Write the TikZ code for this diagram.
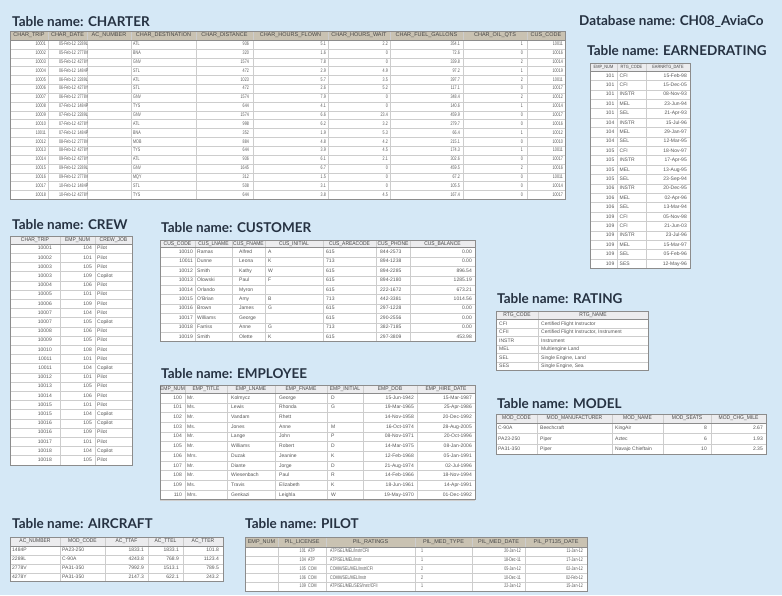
\documentclass[tikz,border=0pt]{standalone}
\usepackage{fontspec}
\setmainfont{Liberation Sans}
\newfontfamily\titlefont{Lato}
\newfontfamily\tabfont{Liberation Sans}
\newfontfamily\tabfontc[FakeStretch=0.7]{Liberation Sans}
\newfontfamily\hdrfont[FakeStretch=0.9]{Liberation Sans}
\newfontfamily\hdrfontn{Liberation Sans}
\newfontfamily\hdrfonts[FakeStretch=0.85]{Liberation Sans}
\definecolor{bgblue}{RGB}{213,232,246}
\definecolor{titlecol}{RGB}{38,50,66}
\definecolor{celltxt}{RGB}{85,85,85}
\definecolor{hdrtxt}{RGB}{70,70,70}
\definecolor{gridcol}{RGB}{205,205,205}
\definecolor{bordercol}{RGB}{140,140,140}
\definecolor{hdrlight}{RGB}{236,236,238}
\definecolor{hdrtan}{RGB}{201,194,178}
\tikzset{
  tabtitle/.style={anchor=base west, inner sep=0pt, text=titlecol, font=\titlefont\bfseries\fontsize{13.5}{16}\selectfont},
  cell/.style={inner sep=0pt, text=celltxt, text height=3.6pt, text depth=1pt, font=\tabfont\fontsize{5}{6}\selectfont},
  cellc/.style={cell, font=\tabfontc\fontsize{5.2}{6}\selectfont},
  hcell/.style={inner sep=0pt, text=hdrtxt, text height=3.8pt, text depth=1pt, font=\hdrfont\fontsize{5.5}{6}\selectfont},
  hcelln/.style={hcell, font=\hdrfontn\fontsize{5.5}{6}\selectfont},
  hcells/.style={hcell, font=\hdrfonts\fontsize{4.6}{6}\selectfont},
  gridline/.style={draw=gridcol, line width=0.4pt},
  tabborder/.style={draw=bordercol, line width=0.6pt},
  ra/.style={anchor=east}, la/.style={anchor=west}
}
% x0, x1, y0, header height, row height, rows, dividers, header fill
\newcommand\tabgrid[8]{%
  \pgfmathsetmacro\tgbot{#3+#4+#6*#5}%
  \fill[white] (#1,#3) rectangle (#2,\tgbot);
  \fill[#8] (#1,#3) rectangle (#2,#3+#4);
  \foreach \k in {1,...,#6}{\draw[gridline] (#1,{#3+#4+\k*#5}) -- (#2,{#3+#4+\k*#5});}
  \foreach \xx in {#7}{\draw[gridline] (\xx,#3) -- (\xx,\tgbot);}
  \draw[draw=bordercol, line width=0.5pt] (#1,#3+#4) -- (#2,#3+#4);
  \draw[tabborder] (#1,#3) rectangle (#2,\tgbot);
}
\newcommand\pilotrow[7]{%
  \pgfmathsetmacro\yy{547+(#1-0.5)*8.8}
  \node[cellc,ra] at (306,\yy) {#2};
  \node[cellc,la] at (308,\yy) {#3};
  \node[cellc,la] at (330,\yy) {#4};
  \node[cellc,la] at (421,\yy) {#5};
  \node[cellc,ra] at (521,\yy) {#6};
  \node[cellc,ra] at (583,\yy) {#7};
}
\newcommand\ratrow[3]{%
  \pgfmathsetmacro\yy{319.5+(#1-0.5)*8.5}
  \node[cell,la] at (499,\yy) {#2};
  \node[cell,la] at (541,\yy) {#3};
}
\begin{document}
\begin{tikzpicture}[x=1pt,y=-1pt]
\useasboundingbox (0,0) rectangle (782,595);
\fill[bgblue] (0,0) rectangle (782,595);

% ---------------- CHARTER
\node[tabtitle] (tCharter) at (12,26) {Table name: CHARTER};
\node[tabtitle] (tDb) at (579,25) {Database name: CH08\_AviaCo};
\tabgrid{10}{565}{31}{9}{8.85}{18}{48,87,131,196,253,328,390,463,527}{hdrtan}
\foreach \hx/\hs in {29/CHAR\_TRIP,67.5/CHAR\_DATE,109/AC\_NUMBER,163.5/CHAR\_DESTINATION,224.5/CHAR\_DISTANCE,290.5/CHAR\_HOURS\_FLOWN,359/CHAR\_HOURS\_WAIT,426.5/CHAR\_FUEL\_GALLONS,495/CHAR\_OIL\_QTS,546/CUS\_CODE}
  {\node[hcelln] at (\hx,35.5) {\hs};}
\foreach \ca/\cb/\cc/\cd/\ce/\cf/\cg/\ch/\ck/\cm [count=\i] in {
 10001/05-Feb-12/2289L/ATL/936/5.1/2.2/354.1/1/10011,
 10002/05-Feb-12/2778V/BNA/320/1.6/0/72.6/0/10016,
 10003/05-Feb-12/4278Y/GNV/1574/7.8/0/339.8/2/10014,
 10004/06-Feb-12/1484P/STL/472/2.9/4.9/97.2/1/10019,
 10005/06-Feb-12/2289L/ATL/1023/5.7/3.5/397.7/2/10011,
 10006/06-Feb-12/4278Y/STL/472/2.6/5.2/117.1/0/10017,
 10007/06-Feb-12/2778V/GNV/1574/7.9/0/348.4/2/10012,
 10008/07-Feb-12/1484P/TYS/644/4.1/0/140.6/1/10014,
 10009/07-Feb-12/2289L/GNV/1574/6.6/23.4/459.9/0/10017,
 10010/07-Feb-12/4278Y/ATL/998/6.2/3.2/279.7/0/10016,
 10011/07-Feb-12/1484P/BNA/352/1.9/5.3/66.4/1/10012,
 10012/08-Feb-12/2778V/MOB/884/4.8/4.2/215.1/0/10010,
 10013/08-Feb-12/4278Y/TYS/644/3.9/4.5/174.3/1/10011,
 10014/09-Feb-12/4278Y/ATL/936/6.1/2.1/302.6/0/10017,
 10015/09-Feb-12/2289L/GNV/1645/6.7/0/459.5/2/10016,
 10016/09-Feb-12/2778V/MQY/312/1.5/0/67.2/0/10011,
 10017/10-Feb-12/1484P/STL/508/3.1/0/105.5/0/10014,
 10018/10-Feb-12/4278Y/TYS/644/3.8/4.5/167.4/0/10017}{
  \pgfmathsetmacro\yy{40+(\i-0.5)*8.85}
  \node[cellc,ra] at (46,\yy) {\ca};
  \node[cellc,ra] at (76,\yy) {\cb};
  \node[cellc,la] at (77.5,\yy) {\cc};
  \node[cellc,la] at (133,\yy) {\cd};
  \node[cellc,ra] at (249,\yy) {\ce};
  \node[cellc,ra] at (326,\yy) {\cf};
  \node[cellc,ra] at (388,\yy) {\cg};
  \node[cellc,ra] at (460,\yy) {\ch};
  \node[cellc,ra] at (523,\yy) {\ck};
  \node[cellc,ra] at (563,\yy) {\cm};
}

% ---------------- EARNEDRATING
\node[tabtitle] (tEarned) at (587,55) {Table name: EARNEDRATING};
\tabgrid{590}{690}{63}{8}{9.4}{21}{617,646}{hdrlight}
\foreach \hx/\hs in {603.5/EMP\_NUM,631.5/RTG\_CODE,668/EARNRTG\_DATE}
  {\node[hcells] at (\hx,67) {\hs};}
\foreach \ea/\eb/\ec [count=\i] in {
 101/CFI/15-Feb-98,101/CFI/15-Dec-05,101/INSTR/08-Nov-93,101/MEL/23-Jun-94,101/SEL/21-Apr-93,
 104/INSTR/15-Jul-96,104/MEL/29-Jan-97,104/SEL/12-Mar-95,105/CFI/18-Nov-97,105/INSTR/17-Apr-95,
 105/MEL/13-Aug-95,105/SEL/23-Sep-94,106/INSTR/20-Dec-95,106/MEL/02-Apr-96,106/SEL/13-Mar-94,
 109/CFI/05-Nov-98,109/CFI/21-Jun-03,109/INSTR/23-Jul-96,109/MEL/15-Mar-97,109/SEL/05-Feb-96,
 109/SES/12-May-96}{
  \pgfmathsetmacro\yy{71+(\i-0.5)*9.4}
  \node[cell,ra] at (614.5,\yy) {\ea};
  \node[cell,la] at (619.5,\yy) {\eb};
  \node[cell,ra] at (687,\yy) {\ec};
}

% ---------------- CREW
\node[tabtitle] (tCrew) at (12,229) {Table name: CREW};
\tabgrid{10}{132}{236}{8}{9.2}{24}{60,95}{hdrlight}
\foreach \hx/\hs in {35/CHAR\_TRIP,77.5/EMP\_NUM,113.5/CREW\_JOB}
  {\node[hcell] at (\hx,240) {\hs};}
\foreach \wa/\wb/\wc [count=\i] in {
 10001/104/Pilot,10002/101/Pilot,10003/105/Pilot,10003/109/Copilot,10004/106/Pilot,
 10005/101/Pilot,10006/109/Pilot,10007/104/Pilot,10007/105/Copilot,10008/106/Pilot,
 10009/105/Pilot,10010/108/Pilot,10011/101/Pilot,10011/104/Copilot,10012/101/Pilot,
 10013/105/Pilot,10014/106/Pilot,10015/101/Pilot,10015/104/Copilot,10016/105/Copilot,
 10016/109/Pilot,10017/101/Pilot,10018/104/Copilot,10018/105/Pilot}{
  \pgfmathsetmacro\yy{244+(\i-0.5)*9.2}
  \node[cell,ra] at (52,\yy) {\wa};
  \node[cell,ra] at (92,\yy) {\wb};
  \node[cell,la] at (97,\yy) {\wc};
}

% ---------------- CUSTOMER
\node[tabtitle] (tCustomer) at (161,232) {Table name: CUSTOMER};
\tabgrid{160}{475}{240}{7.5}{9.4}{10}{195,232,265,323,376,410}{hdrlight}
\foreach \hx/\hs in {177.5/CUS\_CODE,213.5/CUS\_LNAME,248.5/CUS\_FNAME,294/CUS\_INITIAL,349.5/CUS\_AREACODE,393/CUS\_PHONE,442.5/CUS\_BALANCE}
  {\node[hcell] at (\hx,243.75) {\hs};}
\foreach \ua/\ub/\uc/\ud/\ue/\uf/\ug [count=\i] in {
 10010/Ramas/Alfred/A/615/844-2573/0.00,
 10011/Dunne/Leona/K/713/894-1238/0.00,
 10012/Smith/Kathy/W/615/894-2285/896.54,
 10013/Olowski/Paul/F/615/894-2180/1285.19,
 10014/Orlando/Myron/{}/615/222-1672/673.21,
 10015/O'Brian/Amy/B/713/442-3381/1014.56,
 10016/Brown/James/G/615/297-1228/0.00,
 10017/Williams/George/{}/615/290-2556/0.00,
 10018/Farriss/Anne/G/713/382-7185/0.00,
 10019/Smith/Olette/K/615/297-3809/453.98}{
  \pgfmathsetmacro\yy{247.5+(\i-0.5)*9.4}
  \node[cell,ra] at (193,\yy) {\ua};
  \node[cell,la] at (197,\yy) {\ub};
  \node[cell,la] at (239,\yy) {\uc};
  \node[cell,la] at (268,\yy) {\ud};
  \node[cell,la] at (326,\yy) {\ue};
  \node[cell,la] at (380,\yy) {\uf};
  \node[cell,ra] at (472,\yy) {\ug};
}

% ---------------- EMPLOYEE
\node[tabtitle] (tEmployee) at (161,378) {Table name: EMPLOYEE};
\tabgrid{160}{475}{385}{8}{9.7}{11}{185,227,275,327,363,417}{hdrlight}
\foreach \hx/\hs in {172.5/EMP\_NUM,206/EMP\_TITLE,251/EMP\_LNAME,301/EMP\_FNAME,345/EMP\_INITIAL,390/EMP\_DOB,446/EMP\_HIRE\_DATE}
  {\node[hcell] at (\hx,389) {\hs};}
\foreach \pa/\pb/\pc/\pd/\pe/\pf/\pg [count=\i] in {
 100/Mr./Kolmycz/George/D/15-Jun-1942/15-Mar-1987,
 101/Ms./Lewis/Rhonda/G/19-Mar-1965/25-Apr-1986,
 102/Mr./Vandam/Rhett/{}/14-Nov-1958/20-Dec-1992,
 103/Ms./Jones/Anne/M/16-Oct-1974/28-Aug-2005,
 104/Mr./Lange/John/P/08-Nov-1971/20-Oct-1996,
 105/Mr./Williams/Robert/D/14-Mar-1975/08-Jan-2006,
 106/Mrs./Duzak/Jeanine/K/12-Feb-1968/05-Jan-1991,
 107/Mr./Diante/Jorge/D/21-Aug-1974/02-Jul-1996,
 108/Mr./Wiesenbach/Paul/R/14-Feb-1966/18-Nov-1994,
 109/Ms./Travis/Elizabeth/K/18-Jun-1961/14-Apr-1991,
 110/Mrs./Genkazi/Leighla/W/19-May-1970/01-Dec-1992}{
  \pgfmathsetmacro\yy{393+(\i-0.5)*9.7}
  \node[cell,ra] at (182,\yy) {\pa};
  \node[cell,la] at (187,\yy) {\pb};
  \node[cell,la] at (231,\yy) {\pc};
  \node[cell,la] at (279,\yy) {\pd};
  \node[cell,la] at (331,\yy) {\pe};
  \node[cell,ra] at (414,\yy) {\pf};
  \node[cell,ra] at (472,\yy) {\pg};
}

% ---------------- RATING
\node[tabtitle] (tRating) at (497,303) {Table name: RATING};
\tabgrid{496}{648}{311}{8.5}{8.5}{6}{538}{hdrlight}
\node[hcell] (hRc) at (517,315.25) {RTG\_CODE};
\node[hcell] (hRn) at (593,315.25) {RTG\_NAME};
\ratrow{1}{CFI}{Certified Flight Instructor}
\ratrow{2}{CFII}{Certified Flight Instructor, Instrument}
\ratrow{3}{INSTR}{Instrument}
\ratrow{4}{MEL}{Multiengine Land}
\ratrow{5}{SEL}{Single Engine, Land}
\ratrow{6}{SES}{Single Engine, Sea}

% ---------------- MODEL
\node[tabtitle] (tModel) at (497,408) {Table name: MODEL};
\tabgrid{496}{766}{414}{9}{10.5}{3}{537,612,663,711}{hdrlight}
\foreach \hx/\hs in {516.5/MOD\_CODE,574.5/MOD\_MANUFACTURER,637.5/MOD\_NAME,687/MOD\_SEATS,738.5/MOD\_CHG\_MILE}
  {\node[hcell] at (\hx,418.5) {\hs};}
\foreach \ma/\mb/\mc/\md/\me [count=\i] in {
 C-90A/Beechcraft/KingAir/8/2.67,
 PA23-250/Piper/Aztec/6/1.93,
 PA31-350/Piper/Navajo Chieftain/10/2.35}{
  \pgfmathsetmacro\yy{423+(\i-0.5)*10.5}
  \node[cell,la] at (498,\yy) {\ma};
  \node[cell,la] at (540,\yy) {\mb};
  \node[cell,la] at (615,\yy) {\mc};
  \node[cell,ra] at (707,\yy) {\md};
  \node[cell,ra] at (763,\yy) {\me};
}

% ---------------- AIRCRAFT
\node[tabtitle] (tAircraft) at (12,528) {Table name: AIRCRAFT};
\tabgrid{10}{223}{537}{9}{8.9}{4}{60,105,148,183}{hdrlight}
\foreach \hx/\hs in {35/AC\_NUMBER,82.5/MOD\_CODE,126.5/AC\_TTAF,165.5/AC\_TTEL,203/AC\_TTER}
  {\node[hcell] at (\hx,541.5) {\hs};}
\foreach \aa/\ab/\ac/\ad/\ae [count=\i] in {
 1484P/PA23-250/1833.1/1833.1/101.8,
 2289L/C-90A/4243.8/768.9/1123.4,
 2778V/PA31-350/7992.9/1513.1/789.5,
 4278Y/PA31-350/2147.3/622.1/243.2}{
  \pgfmathsetmacro\yy{546+(\i-0.5)*8.9}
  \node[cell,la] at (12,\yy) {\aa};
  \node[cell,la] at (62,\yy) {\ab};
  \node[cell,ra] at (144,\yy) {\ac};
  \node[cell,ra] at (179,\yy) {\ad};
  \node[cell,ra] at (219,\yy) {\ae};
}

% ---------------- PILOT
\node[tabtitle] (tPilot) at (245,528) {Table name: PILOT};
\tabgrid{245}{587}{537}{10}{8.8}{5}{278,326,415,472,525}{hdrtan}
\foreach \hx/\hs in {261.5/EMP\_NUM,302/PIL\_LICENSE,370.5/PIL\_RATINGS,443.5/PIL\_MED\_TYPE,498.5/PIL\_MED\_DATE,556/PIL\_PT135\_DATE}
  {\node[hcelln] at (\hx,542) {\hs};}
\pilotrow{1}{101}{ATP}{ATP/SEL/MEL/Instr/CFII}{1}{20-Jan-12}{11-Jan-12}
\pilotrow{2}{104}{ATP}{ATP/SEL/MEL/Instr}{1}{18-Dec-11}{17-Jan-12}
\pilotrow{3}{105}{COM}{COMM/SEL/MEL/Instr/CFI}{2}{05-Jan-12}{02-Jan-12}
\pilotrow{4}{106}{COM}{COMM/SEL/MEL/Instr}{2}{10-Dec-11}{02-Feb-12}
\pilotrow{5}{109}{COM}{ATP/SEL/MEL/SES/Instr/CFII}{1}{22-Jan-12}{15-Jan-12}
\end{tikzpicture}
\end{document}
